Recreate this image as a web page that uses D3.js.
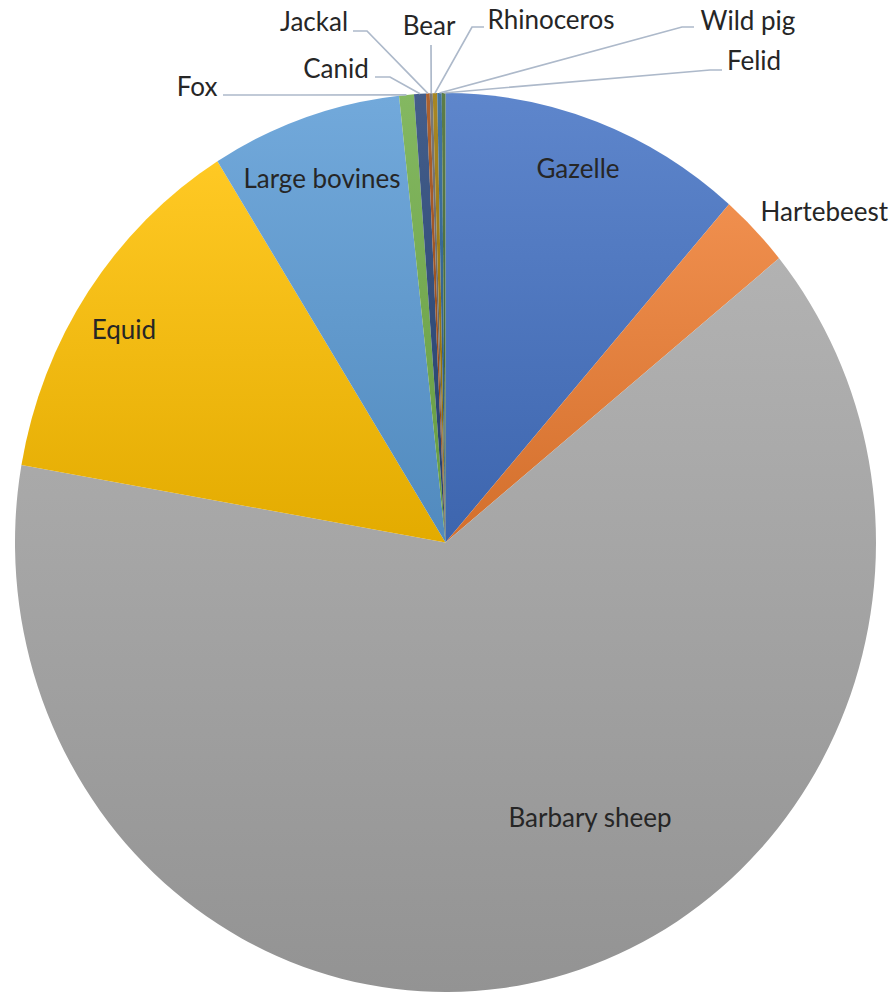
<!DOCTYPE html>
<html>
<head>
<meta charset="utf-8">
<script src="https://cdn.jsdelivr.net/npm/d3@7"></script>
<style>
  html, body { margin: 0; padding: 0; background: #fff; }
  svg { display: block; }
  text { font-family: Lato, "Liberation Sans", sans-serif; fill: #262626; }
</style>
</head>
<body>
<svg id="chart" width="895" height="993"></svg>
<script>
// Faunal remains by taxon (specimen counts)
const categories = ["Gazelle", "Hartebeest", "Barbary sheep", "Equid", "Large bovines",
                    "Fox", "Canid", "Jackal", "Bear", "Rhinoceros", "Wild pig", "Felid"];
const counts = [412, 96, 2292, 481, 258, 20, 16, 5, 4, 6, 6, 5];
const palette = ["#4472C4", "#ED7D31", "#A5A5A5", "#FFC000", "#5B9BD5", "#70AD47",
                 "#264478", "#9E480E", "#636363", "#997300", "#255E91", "#43682B"];

// Label placement: labels are anchored at [x, y]; outside labels carry a leader
// that starts at the text edge, runs through an elbow and ends on the slice rim.
const labelLayout = {
  "Gazelle":       { x: 578, y: 168 },
  "Hartebeest":    { x: 888, y: 211, anchor: "end" },
  "Barbary sheep": { x: 590, y: 817 },
  "Equid":         { x: 124, y: 329 },
  "Large bovines": { x: 322, y: 178 },
  "Fox":        { x: 197, y: 86, leader: [[223, 95], [300, 95]] },
  "Canid":      { x: 336, y: 68, leader: [[375, 77], [390, 77]] },
  "Jackal":     { x: 314, y: 21, leader: [[353, 31], [367, 31]] },
  "Bear":       { x: 429, y: 25, leader: [[431, 45], [431, 46]] },
  "Rhinoceros": { x: 551, y: 19, leader: [[484, 27], [472, 27]] },
  "Wild pig":   { x: 748, y: 20, leader: [[694, 27], [682, 27]] },
  "Felid":      { x: 754, y: 60, leader: [[722, 70], [710, 70]] }
};

const cx = 445.5, cy = 542.5, rx = 430.5, ry = 449.5;

const data = categories.map((c, i) => ({ name: c, value: counts[i], color: palette[i] }));

const svg = d3.select("#chart");
const defs = svg.append("defs");

data.forEach((d, i) => {
  const g = defs.append("linearGradient")
    .attr("id", "grad" + i)
    .attr("x1", 0).attr("y1", 0).attr("x2", 0).attr("y2", 1);
  g.append("stop").attr("offset", "0%").attr("stop-color", d3.interpolateRgb(d.color, "#fff")(0.14));
  g.append("stop").attr("offset", "100%").attr("stop-color", d3.interpolateRgb(d.color, "#000")(0.11));
});

const pie = d3.pie().sort(null).value(d => d.value).startAngle(0).endAngle(2 * Math.PI);
const arcs = pie(data);
const arc = d3.arc().innerRadius(0).outerRadius(ry);

// The pie is drawn as a circle of radius ry and stretched horizontally into an ellipse.
const pieG = svg.append("g")
  .attr("transform", `translate(${cx},${cy}) scale(${rx / ry},1)`);

pieG.selectAll("path")
  .data(arcs)
  .join("path")
  .attr("d", arc)
  .attr("fill", (d, i) => `url(#grad${i})`);

function rimPoint(a) {
  const m = (a.startAngle + a.endAngle) / 2;
  return [cx + rx * Math.sin(m), cy - ry * Math.cos(m)];
}

// Leader lines for the thin slices
const line = d3.line();
arcs.forEach(a => {
  const lay = labelLayout[a.data.name];
  if (!lay.leader) return;
  const pts = lay.leader.concat([rimPoint(a)]);
  svg.append("path")
    .attr("d", line(pts))
    .attr("fill", "none")
    .attr("stroke", "#ADB9CA")
    .attr("stroke-width", 1.7);
});

// Labels
svg.selectAll("text.lbl")
  .data(arcs)
  .join("text")
  .attr("class", "lbl")
  .attr("x", d => labelLayout[d.data.name].x)
  .attr("y", d => labelLayout[d.data.name].y)
  .attr("text-anchor", d => labelLayout[d.data.name].anchor || "middle")
  .attr("dominant-baseline", "central")
  .style("font-size", "26px")
  .text(d => d.data.name);
</script>
</body>
</html>
